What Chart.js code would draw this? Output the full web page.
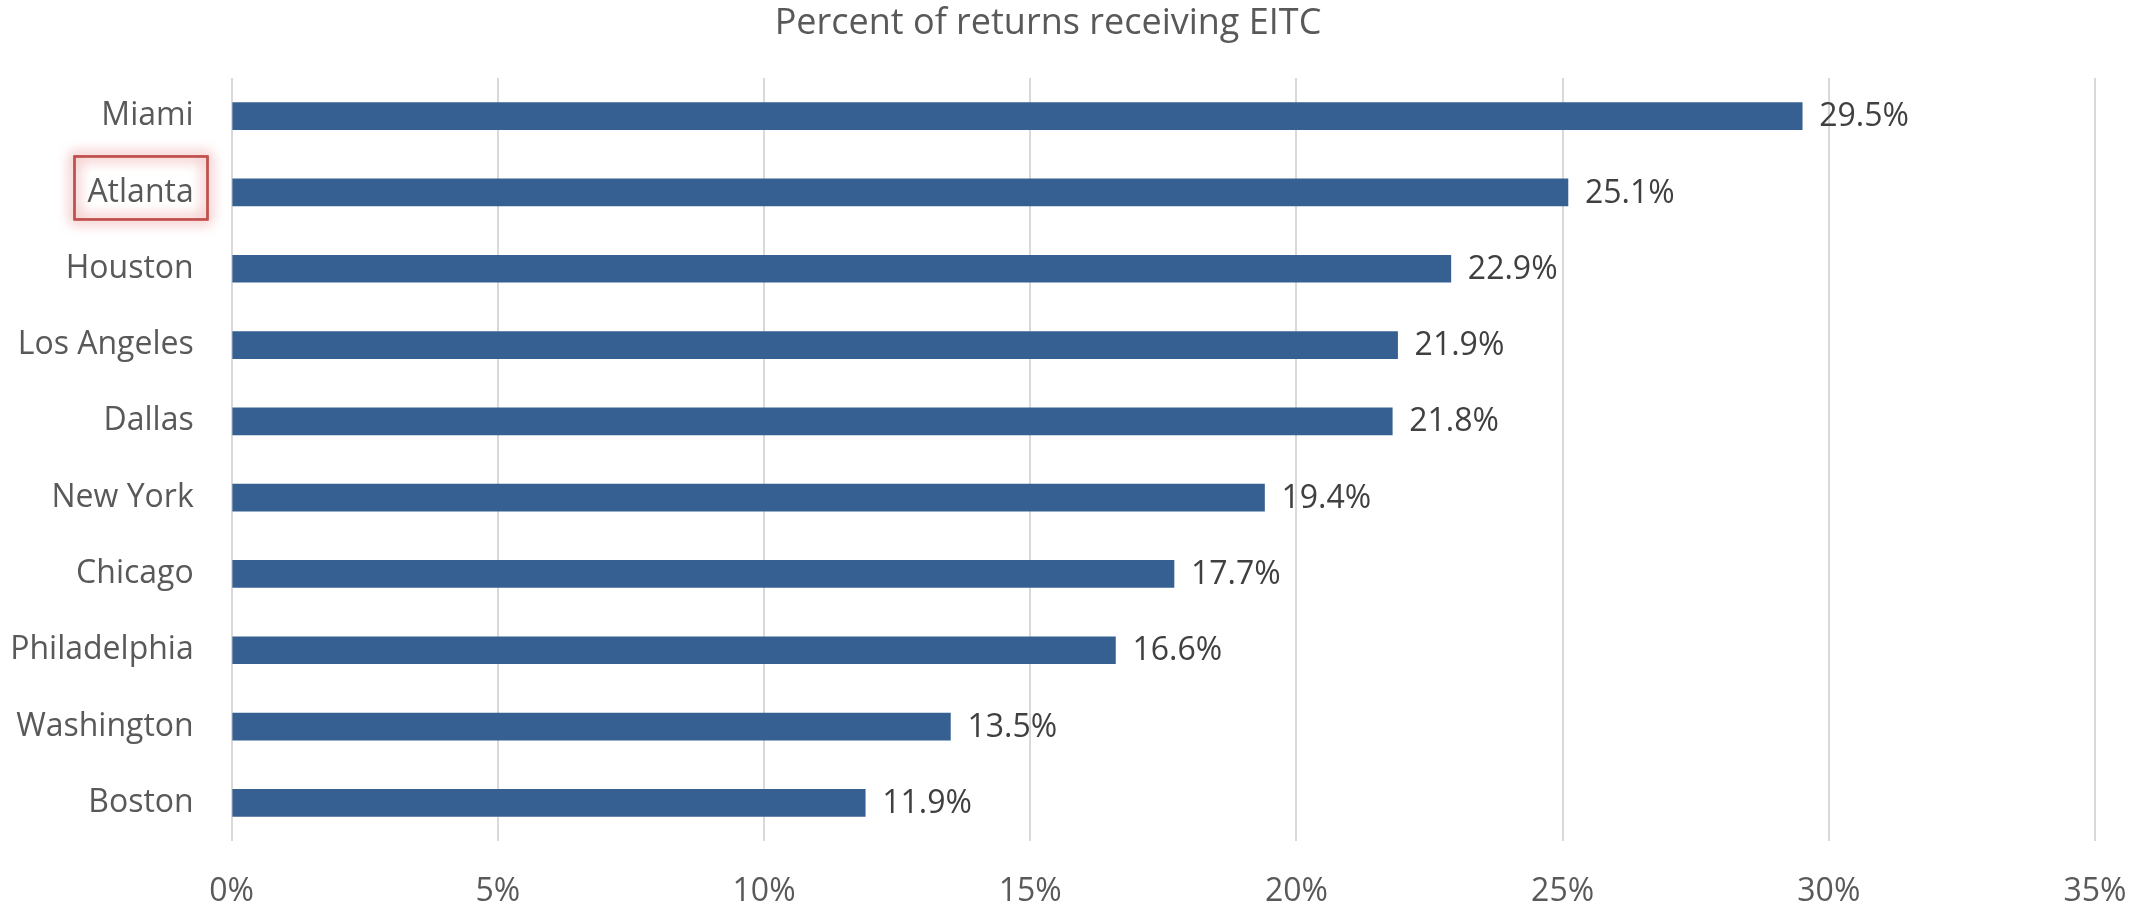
<!DOCTYPE html>
<html>
<head>
<meta charset="utf-8">
<script src="https://cdn.jsdelivr.net/npm/chart.js@4"></script>
<style>
  html, body { margin: 0; padding: 0; background: #fff; }
  #wrap { width: 2150px; height: 908px; }
</style>
</head>
<body>
<div id="wrap"><canvas id="EitcChart" width="2150" height="908"></canvas></div>
<script>
// data
const cities = ['Miami', 'Atlanta', 'Houston', 'Los Angeles', 'Dallas', 'New York', 'Chicago', 'Philadelphia', 'Washington', 'Boston']
const eitcShare = [29.5, 25.1, 22.9, 21.9, 21.8, 19.4, 17.7, 16.6, 13.5, 11.9]
const xTicks = [0, 5, 10, 15, 20, 25, 30, 35]
const chartTitle = 'Percent of returns receiving EITC'
const markedCity = 'Atlanta'

const fontFam = '"Open Sans", "DejaVu Sans", sans-serif'

// title drawn by hand so it sits where the original one does
const titlePlugin = {
  id: 'titleText',
  afterDraw(chart) {
    const c = chart.ctx
    c.save()
    c.font = '36px ' + fontFam
    c.fillStyle = '#595959'
    c.textAlign = 'center'
    c.textBaseline = 'middle'
    c.fillText(chartTitle, 1048, 24)
    c.restore()
  }
}

// value labels at the end of each bar
const valueLabels = {
  id: 'valueLabels',
  afterDatasetsDraw(chart) {
    const c = chart.ctx
    const meta = chart.getDatasetMeta(0)
    c.save()
    c.font = '32px ' + fontFam
    c.fillStyle = '#404040'
    c.textAlign = 'left'
    c.textBaseline = 'middle'
    meta.data.forEach(function (bar, i) {
      c.fillText(eitcShare[i].toFixed(1) + '%', bar.x + 17, bar.y + 1)
    })
    c.restore()
  }
}

// red glowing box round the marked city label
const markBox = {
  id: 'markBox',
  afterDraw(chart) {
    const yScale = chart.scales.y
    const idx = cities.indexOf(markedCity)
    const cy = yScale.getPixelForValue(idx)
    const c = chart.ctx
    c.save()
    c.strokeStyle = '#c0504d'
    c.lineWidth = 2
    c.shadowColor = 'rgba(220, 80, 80, 0.8)'
    c.shadowBlur = 14
    c.strokeRect(74.5, cy - 36, 133, 63)
    c.strokeRect(74.5, cy - 36, 133, 63)
    c.shadowBlur = 0
    c.strokeRect(74.5, cy - 36, 133, 63)
    c.restore()
  }
}

new Chart(document.getElementById('EitcChart'), {
  type: 'bar',
  data: {
    labels: cities,
    datasets: [{
      data: eitcShare,
      backgroundColor: '#376092',
      borderWidth: 0,
      barThickness: 27
    }]
  },
  options: {
    indexAxis: 'y',
    responsive: false,
    animation: false,
    layout: { padding: { top: 78, right: 55, left: 0, bottom: 0 } },
    plugins: {
      legend: { display: false },
      tooltip: { enabled: false }
    },
    scales: {
      x: {
        min: 0,
        max: 35,
        afterBuildTicks(scale) {
          scale.ticks = xTicks.map(v => ({ value: v }))
        },
        afterFit(scale) {
          scale.height = 67
          scale.paddingLeft = 0
          scale.paddingRight = 0
        },
        grid: { color: '#d9d9d9', lineWidth: 2, drawTicks: false },
        border: { display: false },
        ticks: {
          padding: 32,
          color: '#595959',
          font: { family: fontFam, size: 32 },
          callback: v => v + '%'
        }
      },
      y: {
        afterFit(scale) { scale.width = 231.7 },
        grid: { display: false },
        border: { display: false },
        ticks: {
          padding: 30,
          color: '#595959',
          font: { family: fontFam, size: 32 }
        }
      }
    }
  },
  plugins: [titlePlugin, valueLabels, markBox]
})
</script>
</body>
</html>
